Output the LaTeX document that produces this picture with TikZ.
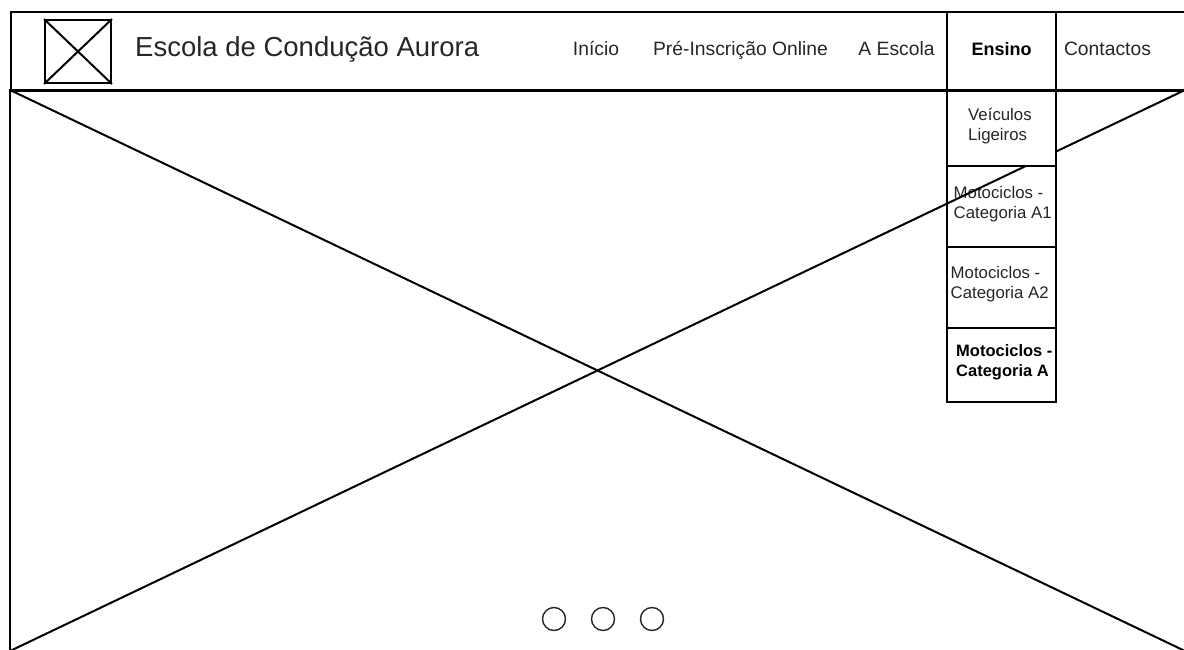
\documentclass[tikz,border=0pt]{standalone}
\usepackage{fontspec}
\setmainfont{Liberation Sans}
\begin{document}
\begin{tikzpicture}[x=1pt,y=-1pt,
  wire/.style={draw=black, line width=2pt},
  boxnode/.style={wire, rectangle, inner sep=0pt, anchor=north west},
  titletxt/.style={font=\fontsize{27.5}{32}\selectfont, inner sep=0pt, anchor=base west, text=black!85},
  navtxt/.style={font=\fontsize{19.3}{23}\selectfont, inner sep=0pt, anchor=base, text=black!85},
  navbold/.style={font=\fontsize{18}{23}\selectfont\bfseries, inner sep=0pt, anchor=base, text=black},
  menutxt/.style={font=\fontsize{16.8}{20}\selectfont, align=left, inner sep=0pt, anchor=west, text=black!85},
  menubold/.style={font=\fontsize{16.5}{20}\selectfont\bfseries, align=left, inner sep=0pt, anchor=west, text=black},
  dot/.style={circle, draw=black!85, line width=1.4pt, minimum size=23pt, inner sep=0pt}]
\useasboundingbox (0,0) rectangle (1184,650);
\clip (0,0) rectangle (1184,650);
% header bar
\node[boxnode, minimum width=1180pt, minimum height=79pt] (header) at (10,11) {};
% logo
\node[boxnode, minimum width=66pt, minimum height=63pt] (logo) at (44,19) {};
\draw[wire] (logo.north west) -- (logo.south east);
\draw[wire] (logo.south west) -- (logo.north east);
\node[titletxt] (title) at (135,57) {Escola de Condução Aurora};
% nav
\node[navtxt] (inicio) at (596,56) {Início};
\node[navtxt] (pre) at (740.5,56) {Pré-Inscrição Online};
\node[navtxt] (escola) at (896.5,56) {A Escola};
\node[boxnode, minimum width=109pt, minimum height=79pt] (ensinobox) at (945.5,11) {};
\node[navbold] (ensino) at (1001.5,56) {Ensino};
\node[navtxt] (contactos) at (1107.5,56) {Contactos};
% hero image placeholder
\coordinate (imgTL) at (10,90);
\coordinate (imgBR) at (1185,651);
\coordinate (imgTR) at (1185,90);
\coordinate (imgBL) at (10,651);
\draw[wire] (imgTL) rectangle (imgBR);
% dropdown box A1 (transparent, line passes over)
\node[boxnode, minimum width=109pt, minimum height=81pt] (m2) at (945.5,165) {};
\node[menutxt] (m2t) at (953.5,204) {Motociclos -\\Categoria A1};
% diagonals
\draw[wire] (imgTL) -- (imgBR);
\draw[wire] (imgBL) -- (imgTR);
% dropdown boxes
\node[boxnode, fill=white, minimum width=109pt, minimum height=75pt] (m1) at (945.5,90) {};
\node[menutxt] (m1t) at (968,126) {Veículos\\Ligeiros};
\node[boxnode, fill=white, minimum width=109pt, minimum height=81pt] (m3) at (945.5,246) {};
\node[menutxt] (m3t) at (950.5,284.5) {Motociclos -\\Categoria A2};
\node[boxnode, fill=white, minimum width=109pt, minimum height=74pt] (m4) at (945.5,327) {};
\node[menubold] (m4t) at (956,362) {Motociclos -\\Categoria A};
% carousel dots
\node[dot] (d1) at (554,619) {};
\node[dot] (d2) at (603,619) {};
\node[dot] (d3) at (652,619) {};
\end{tikzpicture}
\end{document}
